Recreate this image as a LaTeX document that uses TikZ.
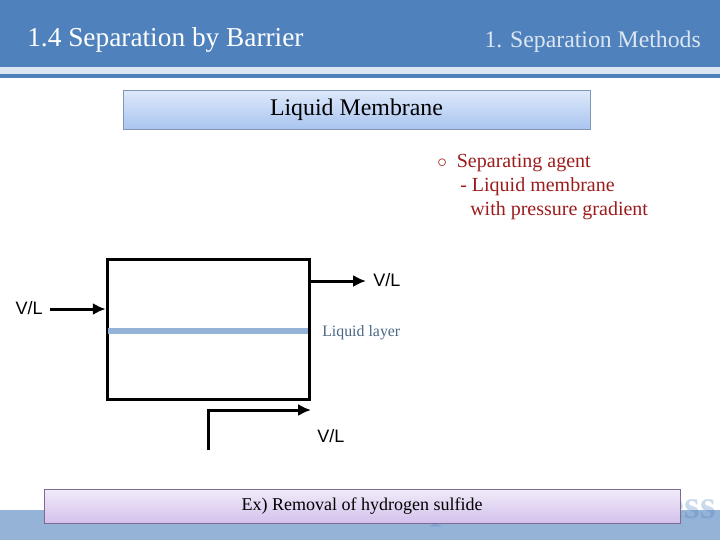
\documentclass[tikz,border=0pt]{standalone}
\usepackage{fontspec}
\setmainfont{Liberation Serif}
\newfontfamily\arialfont{Liberation Sans}
\usetikzlibrary{arrows.meta,positioning}
\definecolor{Header}{HTML}{4F81BD}
\definecolor{HeaderLight}{HTML}{DCE6F2}
\definecolor{Band}{HTML}{95B3D7}
\definecolor{Agent}{HTML}{9C1C1C}
\definecolor{LayerText}{HTML}{4A6785}
\definecolor{TitleTop}{HTML}{DDE8FA}
\definecolor{TitleBot}{HTML}{A9C5F0}
\definecolor{TitleLine}{HTML}{7F96B4}
\definecolor{ExTop}{HTML}{F1EBF9}
\definecolor{ExBot}{HTML}{D4C1EC}
\definecolor{ExLine}{HTML}{7F6A94}
\begin{document}
\begin{tikzpicture}[x=0.75pt,y=-0.75pt,
  banner/.style={draw=TitleLine,top color=TitleTop,bottom color=TitleBot,minimum width=350pt,minimum height=29pt,font=\fontsize{17.9}{20}\selectfont},
  exbox/.style={draw=ExLine,top color=ExTop,bottom color=ExBot,minimum width=477pt,minimum height=25.5pt,font=\fontsize{13.5}{16}\selectfont},
  agent/.style={text=Agent,anchor=west,inner sep=0pt,font=\fontsize{15}{18}\selectfont},
  flow/.style={line width=2.25pt,-{Latex[length=3.4mm,width=3.2mm]}},
  stream/.style={font=\arialfont\fontsize{13.5}{16}\selectfont,inner sep=0pt}
]
\useasboundingbox (0,0) rectangle (720,540);
% header
\fill[Header] (0,0) rectangle (720,67);
\fill[HeaderLight] (0,67) rectangle (720,74);
\fill[Header] (0,74) rectangle (720,78);
\node[text=white,anchor=west,inner sep=0pt,font=\fontsize{20.5}{24}\selectfont] (title) at (27,40) {1.4 Separation by Barrier};
\node[text=HeaderLight,anchor=east,inner sep=0pt,font=\fontsize{17.8}{20}\selectfont] (chapter) at (701,42) {1. Separation Methods};
% footer
\fill[Band] (0,510) rectangle (720,540);
\node[text=Header,opacity=0.3,anchor=south east,inner sep=0pt,font=\bfseries\fontsize{30}{32}\selectfont] (mark) at (716,527) {Separation Process};
\node[banner] (membrane) at (356.5,110) {Liquid Membrane};
\node[exbox] (example) at (362,506) {Ex) Removal of hydrogen sulfide};
% separating agent
\node[agent] (agent) at (437,163) {$\circ$\ \ Separating agent};
\node[agent] (agent2) at (460,187) {- Liquid membrane};
\node[agent] (agent3) at (470,211) {with pressure gradient};
% vessel
\node[draw,line width=2.25pt,minimum width=152pt,minimum height=105pt] (vessel) at (208.5,329) {};
\coordinate (layerL) at (108,331);
\coordinate (layerR) at (308,331);
\draw[Band,line width=4pt] (layerL) -- (layerR);
\node[text=LayerText,anchor=west,inner sep=0pt,font=\fontsize{11.9}{14}\selectfont] (layer) at (322,333) {Liquid layer};
% streams
\node[stream,anchor=east] (feed) at (43,308) {V/L};
\coordinate (feedS) at (50,309);
\draw[flow] (feedS) -- (feedS -| vessel.west);
\coordinate (topS) at (310,281);
\coordinate (topE) at (366,281);
\draw[flow] (topS) -- (topE);
\node[stream,anchor=west] (top) at (373,280) {V/L};
\coordinate (botS) at (208,450);
\coordinate (botE) at (311,410);
\draw[flow] (botS) |- (botE);
\node[stream,anchor=west] (bot) at (317,436) {V/L};
\end{tikzpicture}
\end{document}
